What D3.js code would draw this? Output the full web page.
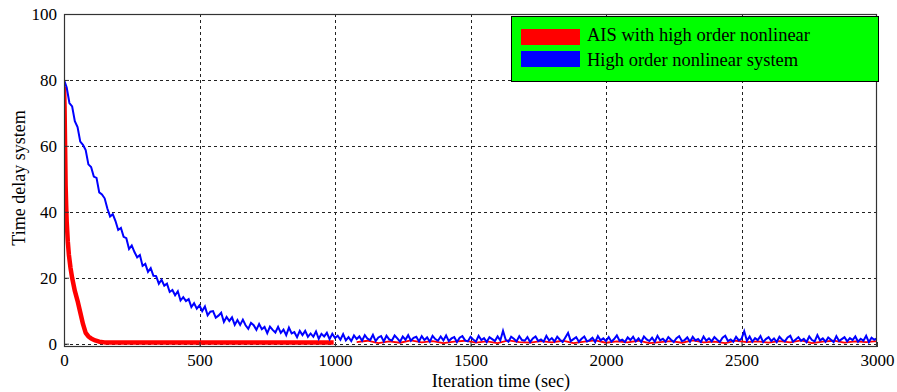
<!DOCTYPE html>
<html><head><meta charset="utf-8">
<script src="https://cdn.jsdelivr.net/npm/d3@7/dist/d3.min.js"></script>
<style>body{margin:0;background:#fff}svg{display:block}</style>
</head><body>
<svg id="c" width="897" height="392"></svg>
<script>
const xTicks = [0,500,1000,1500,2000,2500,3000];
const yTicks = [0,20,40,60,80,100];
const seriesNames = ["AIS with high order nonlinear","High order nonlinear system"];

// Blue series: samples every 10 s from 0 to 3000
const blueStep = 10;
const blueValues = [
80.0,77.7,73.0,72.0,67.5,65.7,61.3,60.3,58.7,54.4,
53.6,50.7,50.3,45.9,45.3,44.1,41.0,38.6,39.3,37.2,
34.5,35.1,32.4,32.0,28.7,29.8,27.8,26.2,26.9,23.6,
24.2,21.8,22.9,20.6,20.5,18.2,19.4,17.6,18.2,15.7,
16.3,14.7,15.9,13.1,14.1,12.9,13.5,11.1,12.3,10.6,
11.6,9.9,11.3,8.6,9.7,9.9,7.9,8.5,9.4,6.6,
8.1,6.9,8.0,5.7,7.2,5.7,7.3,5.6,4.5,6.3,
5.6,4.2,6.0,4.4,5.1,3.2,5.2,4.2,3.4,5.1,
3.3,4.3,2.6,4.9,3.1,3.5,2.0,3.9,2.6,3.9,
2.1,3.1,2.1,3.7,1.5,3.0,2.2,3.3,1.4,3.0,1.7,
2.4,1.2,2.9,1.0,2.0,0.8,2.5,1.4,2.2,0.9,
2.6,1.5,1.1,2.7,0.8,1.9,2.3,0.7,2.4,1.3,
1.0,2.5,1.6,0.6,2.2,1.2,2.6,0.9,1.8,2.1,
0.7,2.3,1.1,1.9,0.6,2.4,1.4,0.9,2.2,1.0,
2.5,0.8,1.6,2.0,0.5,1.8,2.3,1.0,0.7,2.1,
1.3,0.6,2.4,1.1,1.7,0.5,2.0,1.4,0.8,2.2,
1.0,3.9,1.2,0.6,2.1,1.5,0.7,2.3,1.1,0.9,
2.0,0.5,1.6,2.2,0.8,1.3,0.6,2.4,1.0,1.7,
0.7,2.1,1.2,0.5,1.9,3.3,0.8,1.4,2.0,0.6,
1.5,2.2,0.7,1.1,1.8,0.5,2.3,1.0,1.6,0.8,
2.0,0.6,1.4,2.5,0.9,1.2,0.5,1.9,1.1,2.1,
0.7,1.6,0.5,2.2,1.3,0.8,1.8,0.6,2.4,1.0,
1.5,0.6,2.0,1.2,0.5,1.7,2.3,0.8,1.1,1.9,
0.6,2.1,1.0,1.4,0.5,2.2,0.9,1.6,0.7,2.0,
1.2,0.5,1.8,2.4,0.8,1.3,0.6,2.1,1.0,1.5,
3.8,0.9,2.2,0.6,1.7,1.1,2.3,0.5,1.4,2.0,
0.8,1.6,0.5,2.1,1.2,0.7,1.9,2.4,0.6,1.3,
2.0,0.9,1.5,0.5,2.2,1.1,0.7,2.6,1.0,1.6,
0.6,1.9,1.2,0.5,2.3,0.8,1.4,2.0,0.7,1.7,
1.1,2.2,0.6,1.5,0.9,2.4,0.5,1.8,1.2,1.6
];

// Red series, main part
const redTime  = [0,2,4,6,8,10,14,18,24,30,40,50,60,70,80,90,100,115,130,150,200,400,600,800,995];
const redValue = [78,72,60,48,42,37,31,27,23,20,16,13,9.5,6,3.3,2.2,1.6,1.0,0.6,0.4,0.4,0.4,0.4,0.4,0.4];
// Red series, noisy tail (every 40 s from 1080)
const redTailStart = 1080, redTailStep = 40;
const redTailValues = [
0.5,0.9,0.2,0.7,0.3,1.0,0.4,0.8,0.2,0.6,
0.9,0.3,0.7,0.2,1.0,0.5,0.3,0.8,0.4,0.9,
0.2,0.6,1.0,0.3,0.7,0.4,0.9,0.2,0.5,0.8,
0.3,1.0,0.4,0.6,0.2,0.9,0.5,0.7,0.3,0.8,
0.4,1.0,0.2,0.6,0.9,0.3,0.7,0.5,0.8
];

const svg = d3.select("#c");
const L = 64, R = 877, T = 14, B = 347;
const x = d3.scaleLinear().domain([0,3000]).range([L,R]);
const y = d3.scaleLinear().domain([-1,100]).range([B,T]);
const font = "'Liberation Serif','Times New Roman',serif";

// grid
const g = svg.append("g");
g.selectAll(".vg").data(xTicks.slice(1,-1)).join("line")
  .attr("x1",d=>Math.round(x(d))+0.5).attr("x2",d=>Math.round(x(d))+0.5)
  .attr("y1",T).attr("y2",B).attr("stroke","#222").attr("stroke-width",1).attr("stroke-dasharray","3,3");
g.selectAll(".hg").data(yTicks.slice(0,-1)).join("line")
  .attr("y1",d=>Math.round(y(d))+0.5).attr("y2",d=>Math.round(y(d))+0.5)
  .attr("x1",L).attr("x2",R).attr("stroke","#222").attr("stroke-width",1).attr("stroke-dasharray","3,3");

svg.append("clipPath").attr("id","pc").append("rect")
  .attr("x",L).attr("y",T).attr("width",R-L).attr("height",B-T);

const line = d3.line().x(d=>x(d[0])).y(d=>y(d[1]));
const redMain = redTime.map((t,i)=>[t,redValue[i]]);
const redTail = redTailValues.map((v,i)=>[redTailStart+i*redTailStep,v]);
const blue = blueValues.map((v,i)=>[i*blueStep,v]);

const pg = svg.append("g").attr("clip-path","url(#pc)");
pg.append("path").attr("d",line(redTail)).attr("fill","none").attr("stroke","#ff0000").attr("stroke-width",1.8);
pg.append("path").attr("d",line(redMain)).attr("fill","none").attr("stroke","#ff0000").attr("stroke-width",4.5).attr("stroke-linejoin","round");
pg.append("path").attr("d",line(blue)).attr("fill","none").attr("stroke","#0000ff").attr("stroke-width",2);

// frame
svg.append("rect").attr("x",L+0.5).attr("y",T+0.5).attr("width",R-L-1).attr("height",B-T-1)
  .attr("fill","none").attr("stroke","#333").attr("stroke-width",1.2);

// axes
const xa = svg.append("g").attr("transform",`translate(0,${B})`)
  .call(d3.axisBottom(x).tickValues(xTicks).tickSize(-5).tickPadding(7).tickFormat(d3.format("d")));
const ya = svg.append("g").attr("transform",`translate(${L},0)`)
  .call(d3.axisLeft(y).tickValues(yTicks).tickSize(-5).tickPadding(7).tickFormat(d3.format("d")));
[xa,ya].forEach(a=>{
  a.select(".domain").remove();
  a.selectAll("line").attr("stroke","#333");
  a.selectAll("text").attr("font-family",font).attr("font-size",17).attr("fill","#000");
});
xa.selectAll("text").attr("dy","0.72em");

svg.append("text").attr("x",501).attr("y",386.5).attr("text-anchor","middle")
  .attr("font-family",font).attr("font-size",18.2).text("Iteration time (sec)");
svg.append("text").attr("transform",`translate(25,178) rotate(-90)`).attr("text-anchor","middle")
  .attr("font-family",font).attr("font-size",18).text("Time delay system");

// legend
const lg = svg.append("g");
lg.append("rect").attr("x",511.5).attr("y",16.5).attr("width",367).attr("height",65)
  .attr("fill","#00ff00").attr("stroke","#000").attr("stroke-width",1);
const cols = ["#ff0000","#0000ff"];
seriesNames.forEach((n,i)=>{
  lg.append("rect").attr("x",521).attr("y",29+i*22).attr("width",59).attr("height",16).attr("fill",cols[i]);
  lg.append("text").attr("x",587).attr("y",41+i*24.5).attr("font-family",font).attr("font-size",18.5).text(n);
});
</script>
</body></html>
